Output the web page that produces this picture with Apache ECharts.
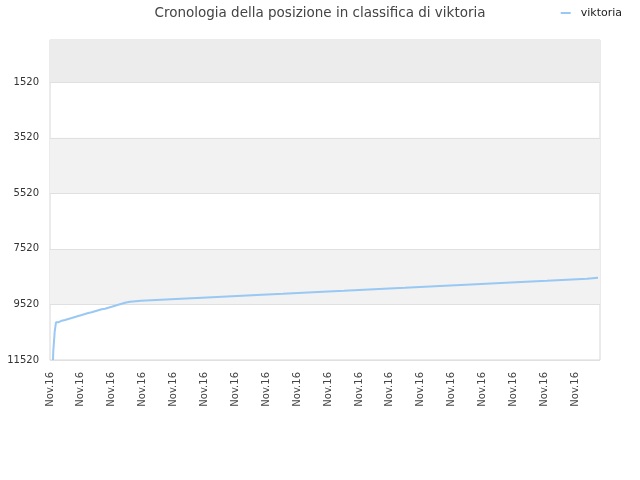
<!DOCTYPE html>
<html><head><meta charset="utf-8">
<script src="https://cdn.jsdelivr.net/npm/echarts@6/dist/echarts.min.js"></script>
<style>html,body{margin:0;padding:0;background:#fff}#c{width:640px;height:480px}</style>
</head><body><div id="c"></div>
<script>
// x positions in days from first tick (Nov.16)
const stepDays = [0.097,0.107,0.152,0.194,0.269,0.379,0.485,0.592,0.702,0.809,0.916,1.026,1.133,1.239,1.350,1.456,1.563,1.673,1.780,1.887,1.997,2.104,2.210,2.320,2.427,2.589,2.945,3.592,4.239,4.919,5.566,6.214,6.861,7.540,8.188,8.835,9.515,10.162,10.809,11.489,12.136,12.783,13.463,14.110,14.757,15.405,16.084,16.731,17.379,17.735];
// rank values
const ranks = [11520,11185,10502,10164,10106,10081,10045,10009,9973,9937,9901,9865,9829,9804,9768,9732,9696,9674,9638,9602,9566,9530,9494,9458,9422,9387,9351,9315,9279,9243,9207,9171,9135,9099,9063,9027,8991,8955,8919,8883,8847,8811,8775,8739,8703,8667,8631,8595,8559,8559];
const xTickDays = [0,1,2,3,4,5,6,7,8,9,10,11,12,13,14,15,16,17];
const xTickLabels = ['Nov.16','Nov.16','Nov.16','Nov.16','Nov.16','Nov.16','Nov.16','Nov.16','Nov.16','Nov.16','Nov.16','Nov.16','Nov.16','Nov.16','Nov.16','Nov.16','Nov.16','Nov.16'];
const yTicks = [1520,3520,5520,7520,9520,11520];
const bands = [[1,1520,'#ececec'],[3520,5520,'#f2f2f2'],[7520,9520,'#f2f2f2']];
const seriesName = 'viktoria';
const titleText = 'Cronologia della posizione in classifica di viktoria';

const chart = echarts.init(document.getElementById('c'), null, {renderer:'canvas'});
chart.setOption({
  animation:false,
  textStyle:{fontFamily:'DejaVu Sans'},
  title:{text:titleText,left:'center',top:1,textStyle:{fontSize:13.5,fontWeight:'normal',color:'#444',fontFamily:'DejaVu Sans'}},
  legend:{right:13,top:2.5,icon:'rect',itemWidth:10,itemHeight:2,textStyle:{fontSize:11,color:'#222',padding:[0,0,0,5]},data:[seriesName]},
  grid:{left:50,right:40,top:40,bottom:120,show:true,borderColor:'#d6d6d6',borderWidth:1,backgroundColor:'#fff'},
  xAxis:{type:'value',min:0,max:17.8,
    axisLine:{show:false},axisTick:{show:false},splitLine:{show:false},
    axisLabel:{customValues:xTickDays,rotate:90,fontSize:10,color:'#444',margin:12,
      formatter:(v)=>xTickLabels[Math.round(v)]||''}},
  yAxis:{type:'value',inverse:true,min:1,max:11520,z:3,
    axisLine:{show:false},
    axisTick:{show:false,customValues:yTicks},
    axisLabel:{customValues:yTicks,fontSize:10,color:'#333',margin:11,formatter:(v)=>String(v)},
    splitLine:{show:true,lineStyle:{color:'#e0e0e0',width:1}}},
  series:[{
    name:seriesName,type:'line',step:'end',showSymbol:false,
    lineStyle:{color:'#99c8f3',width:2},itemStyle:{color:'#99c8f3'},
    data:stepDays.map((d,i)=>[d,ranks[i]]),
    markArea:{silent:true,itemStyle:{opacity:1},
      data:bands.map(b=>[{yAxis:b[0],itemStyle:{color:b[2]}},{yAxis:b[1]}])}
  }]
});
</script></body></html>
